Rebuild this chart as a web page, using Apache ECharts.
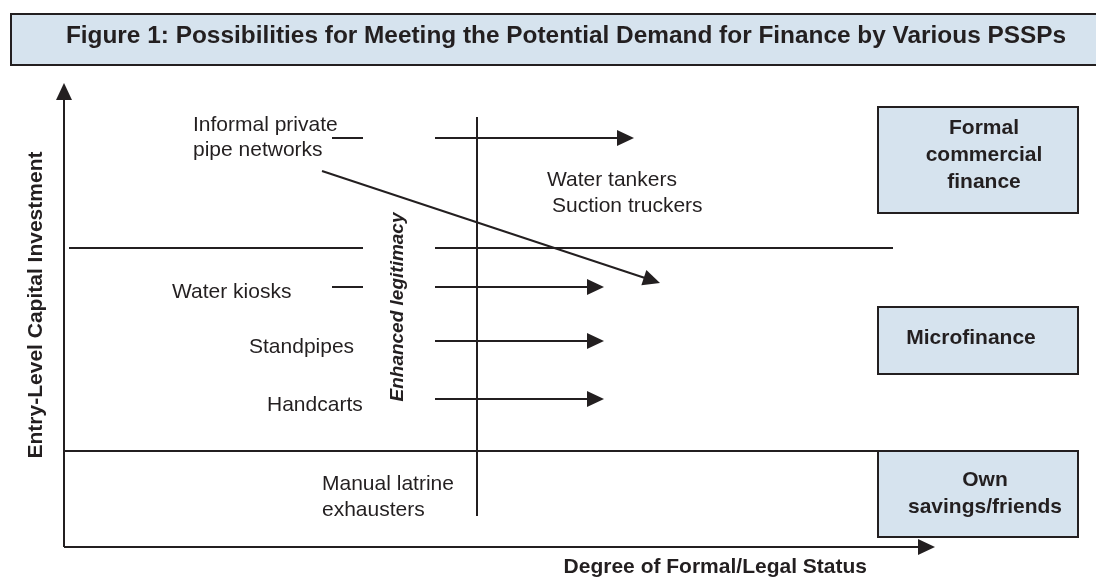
<!DOCTYPE html>
<html lang="en">
<head>
    <meta charset="UTF-8">
    <title>Figure 1: Possibilities for Meeting the Potential Demand for Finance by Various PSSPs</title>
    <script src="https://cdn.jsdelivr.net/npm/echarts@6/dist/echarts.min.js"></script>
    <style>
        html, body { margin: 0; padding: 0; background: #fff; }
        #diagram { width: 1096px; height: 579px; }
    </style>
</head>
<body>
<div id="diagram"></div>
<script>
    // diagram space: x 0..1096, y 0..579 (top down)
    var spaceW = 1096, spaceH = 579;

    // [x1, y1, x2, y2, arrowhead]
    var axisLines = [[64, 547, 64, 83, 1], [64, 547, 935, 547, 1]];
    var bandLines = [[64, 451, 878, 451, 0], [69, 248, 363, 248, 0], [435, 248, 893, 248, 0]];
    var legitimacyLine = [[477, 117, 477, 516, 0]];
    var stubLines = [[332, 138, 363, 138, 0], [332, 287, 363, 287, 0]];
    var moveArrows = [
        [435, 138, 634, 138, 1],
        [322, 171, 660, 283, 1],
        [435, 287, 604, 287, 1],
        [435, 341, 604, 341, 1],
        [435, 399, 604, 399, 1]
    ];

    // boxes [x1, y1, x2, y2]
    var titleBox = [[11, 14, 1110, 65]];
    var financeBoxes = [[878, 107, 1078, 213], [878, 307, 1078, 374], [878, 451, 1078, 537]];
    var financeLabels = ['Formal', 'commercial', 'finance', 'Microfinance', 'Own', 'savings/friends'];
    var financeLabelPos = [[984, 128], [984, 155], [984, 182], [971, 338], [985, 480], [985, 507]];

    var providerLabels = ['Informal private', 'pipe networks', 'Water tankers', 'Suction truckers',
        'Water kiosks', 'Standpipes', 'Handcarts', 'Manual latrine', 'exhausters'];
    var providerLabelPos = [[193, 125], [193, 150], [547, 180], [552, 206],
        [172, 292], [249, 347], [267, 405], [322, 484], [322, 510]];

    var titleText = 'Figure 1: Possibilities for Meeting the Potential Demand for Finance by Various PSSPs';
    var yAxisTitle = 'Entry-Level Capital Investment';
    var xAxisTitle = 'Degree of Formal/Legal Status';
    var legitimacyText = 'Enhanced legitimacy';

    var ink = '#231f20';
    var boxFill = '#d6e3ee';
    var fontFam = '"Liberation Sans", Arial, Helvetica, sans-serif';

    var chart = echarts.init(document.getElementById('diagram'));

    function segmentItem(params, api) {
        var p1 = api.coord([api.value(0), api.value(1)]);
        var p2 = api.coord([api.value(2), api.value(3)]);
        var kids = [];
        var end = p2;
        if (api.value(4)) {
            var dx = p2[0] - p1[0], dy = p2[1] - p1[1];
            var len = Math.sqrt(dx * dx + dy * dy);
            var ux = dx / len, uy = dy / len;
            var bx = p2[0] - ux * 17, by = p2[1] - uy * 17;
            end = [bx + ux * 2, by + uy * 2];
            kids.push({
                type: 'polygon',
                shape: { points: [p2, [bx - uy * 8, by + ux * 8], [bx + uy * 8, by - ux * 8]] },
                style: { fill: ink }
            });
        }
        kids.unshift({
            type: 'line',
            shape: { x1: p1[0], y1: p1[1], x2: end[0], y2: end[1] },
            style: { stroke: ink, lineWidth: 2 }
        });
        return { type: 'group', children: kids };
    }

    function boxItem(params, api) {
        var a = api.coord([api.value(0), api.value(1)]);
        var b = api.coord([api.value(2), api.value(3)]);
        return {
            type: 'rect',
            shape: { x: a[0], y: a[1], width: b[0] - a[0], height: b[1] - a[1] },
            style: { fill: boxFill, stroke: ink, lineWidth: 2 }
        };
    }

    function textItem(texts, font, align, rotation) {
        return function (params, api) {
            var p = api.coord([api.value(0), api.value(1)]);
            return {
                type: 'text',
                x: p[0],
                y: p[1],
                rotation: rotation || 0,
                style: {
                    text: texts[params.dataIndex],
                    font: font,
                    fill: ink,
                    align: align,
                    textAlign: align,
                    verticalAlign: 'middle',
                    textVerticalAlign: 'middle'
                }
            };
        };
    }

    function segSeries(data) {
        return { type: 'custom', renderItem: segmentItem, data: data, silent: true };
    }

    var option = {
        animation: false,
        grid: { left: 0, right: 0, top: 0, bottom: 0 },
        xAxis: { type: 'value', min: 0, max: spaceW, show: false },
        yAxis: { type: 'value', min: 0, max: spaceH, inverse: true, show: false },
        series: [
            { type: 'custom', renderItem: boxItem, data: titleBox, silent: true },
            { type: 'custom', renderItem: boxItem, data: financeBoxes, silent: true },
            segSeries(axisLines),
            segSeries(bandLines),
            segSeries(legitimacyLine),
            segSeries(stubLines),
            segSeries(moveArrows),
            {
                type: 'custom', silent: true, data: [[566, 36]],
                renderItem: textItem([titleText], 'bold 24.4px ' + fontFam, 'center')
            },
            {
                type: 'custom', silent: true, data: financeLabelPos,
                renderItem: textItem(financeLabels, 'bold 21px ' + fontFam, 'center')
            },
            {
                type: 'custom', silent: true, data: providerLabelPos,
                renderItem: textItem(providerLabels, '21px ' + fontFam, 'left')
            },
            {
                type: 'custom', silent: true, data: [[36, 305]],
                renderItem: textItem([yAxisTitle], 'bold 21px ' + fontFam, 'center', Math.PI / 2)
            },
            {
                type: 'custom', silent: true, data: [[867, 567]],
                renderItem: textItem([xAxisTitle], 'bold 21px ' + fontFam, 'right')
            },
            {
                type: 'custom', silent: true, data: [[398, 307]],
                renderItem: textItem([legitimacyText], 'italic bold 19px ' + fontFam, 'center', Math.PI / 2)
            }
        ]
    };

    chart.setOption(option);
</script>
</body>
</html>
